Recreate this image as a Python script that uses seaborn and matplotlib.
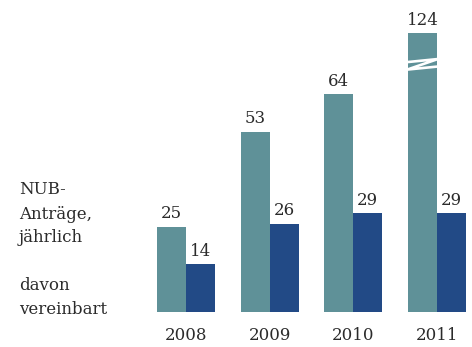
import matplotlib
matplotlib.use("Agg")
import matplotlib.pyplot as plt
import numpy as np
import pandas as pd
import seaborn as sns

# NUB requests per year and how many of them were agreed
years = ["2008", "2009", "2010", "2011"]
antraege = [25, 53, 64, 124]
vereinbart = [14, 26, 29, 29]
series_names = ["NUB-Anträge, jährlich", "davon vereinbart"]
legend_lines = [["NUB-", "Anträge,", "jährlich"], ["davon", "vereinbart"]]

TEAL = "#5f9198"
BLUE = "#224a86"
TEXT = "#2b2b2b"
# bars taller than this are shown cut with a break marker
BREAK_CAP = 82

df = pd.DataFrame({
    "year": years * 2,
    "value": antraege + vereinbart,
    "series": [series_names[0]] * len(years) + [series_names[1]] * len(years),
})
df["shown"] = np.minimum(df["value"], BREAK_CAP)

sns.set_theme(style="white")
plt.rcParams["font.family"] = ["DejaVu Serif"]

fig = plt.figure(figsize=(4.72, 3.47), dpi=100)
ax = fig.add_axes([0, 0, 1, 1])
sns.barplot(data=df, x="year", y="shown", hue="series",
            palette=[TEAL, BLUE], width=0.693, gap=0, dodge=True,
            legend=False, ax=ax, saturation=1, errorbar=None,
            linewidth=0, edgecolor="none")

# pixel-based framing: group step 83.7 px, baseline 35 px above bottom
ax.set_xlim(-186 / 83.67, (472 - 186) / 83.67)
ax.set_ylim(-35 / 3.4, (347 - 35) / 3.4)
ax.axis("off")

FS = 12
# value labels above every bar
bars = [p for p in ax.patches if p.get_height() > 0]
bars.sort(key=lambda p: p.get_x())
values_by_x = []
for i, y in enumerate(years):
    values_by_x.append(antraege[i])
    values_by_x.append(vereinbart[i])
for p, v in zip(bars, values_by_x):
    ax.annotate(f"{v}", (p.get_x() + p.get_width() / 2, p.get_height()),
                xytext=(0, 6.2), textcoords="offset points",
                ha="center", va="baseline", fontsize=FS, color=TEXT)
    if v > BREAK_CAP:
        x0, x1 = p.get_x() - 0.01, p.get_x() + p.get_width() + 0.01
        yc = p.get_height() - 9.2
        ax.plot([x0, x1, x0, x1],
                [yc + 0.7, yc + 1.6, yc - 1.5, yc - 0.6],
                color="white", lw=1.9, solid_joinstyle="miter",
                clip_on=False, zorder=5)

# year labels under each group
for i, y in enumerate(years):
    ax.text(i, -24 / 3.4, y, ha="center", va="center",
            fontsize=FS, color=TEXT)

# left-hand series captions
for line, yy in zip(legend_lines[0], [190, 214, 238]):
    fig.text(19 / 472, 1 - yy / 347, line, ha="left", va="center",
             fontsize=FS, color=TEXT)
for line, yy in zip(legend_lines[1], [286, 309]):
    fig.text(19 / 472, 1 - yy / 347, line, ha="left", va="center",
             fontsize=FS, color=TEXT)

fig.savefig("out.png", dpi=100)
